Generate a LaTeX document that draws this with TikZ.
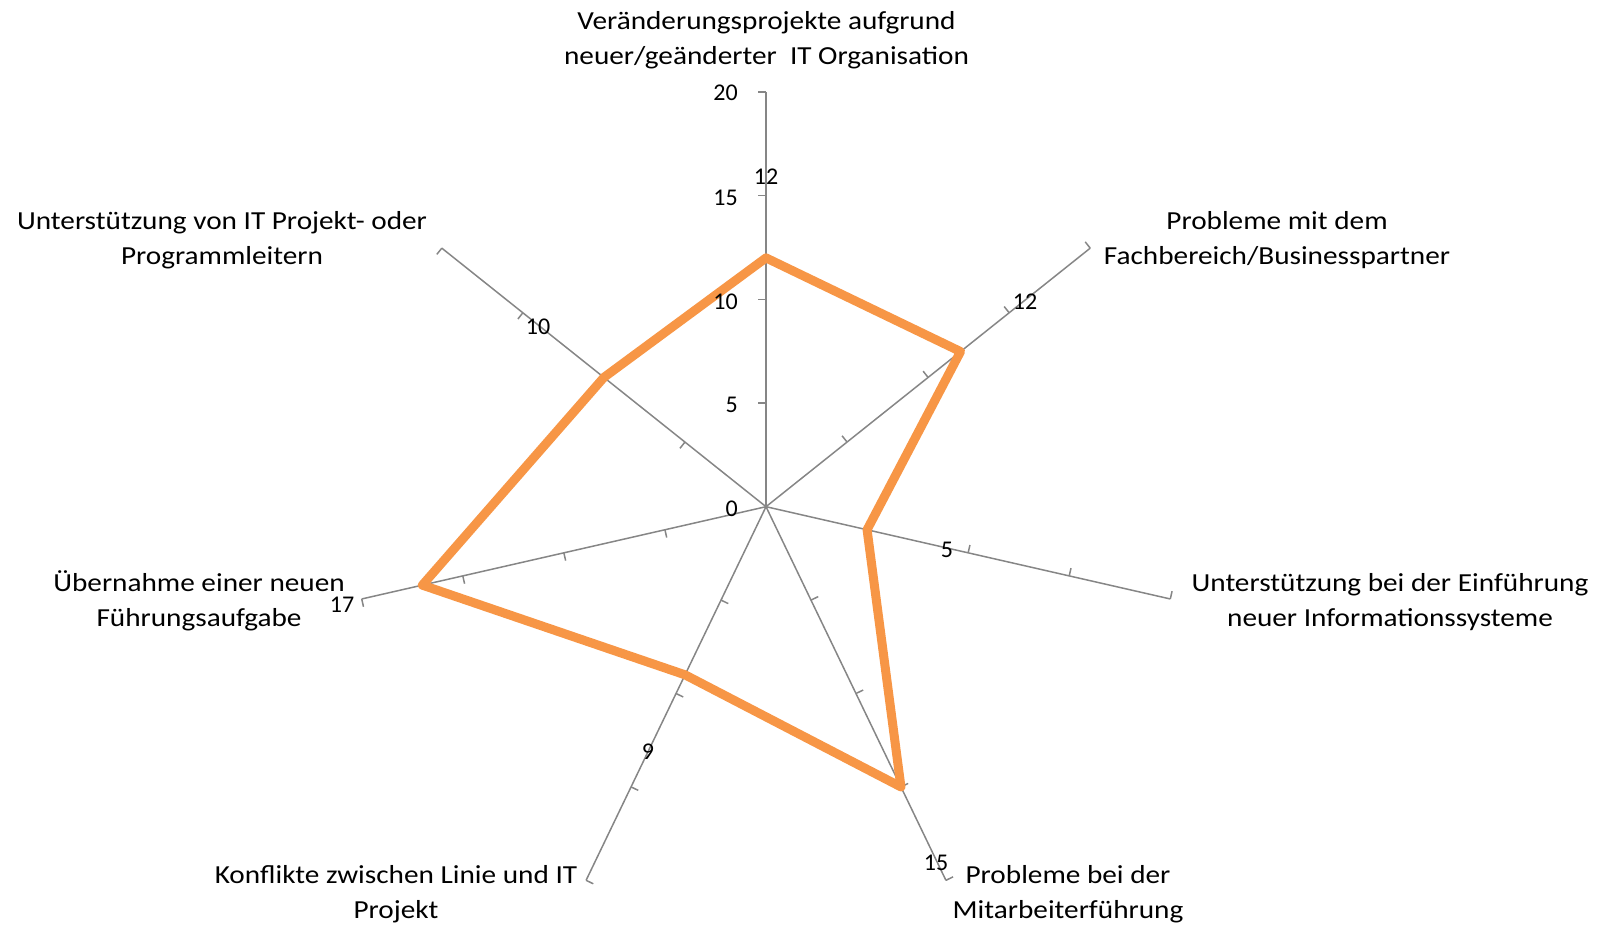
\documentclass[tikz,border=0pt]{standalone}
\usepackage{fontspec}
\setmainfont{Carlito}
\newfontfamily\catfont[FakeStretch=1.125]{Carlito}
\definecolor{axisgray}{HTML}{868686}
\definecolor{seriesorange}{HTML}{F79646}
\begin{document}
\begin{tikzpicture}[x=1pt,y=1pt,
  axisline/.style={axisgray, line width=1.5pt},
  series/.style={seriesorange, line width=9pt, line join=round},
  cat/.style={align=center, anchor=base, inner sep=0pt, font=\catfont\fontsize{26}{35}\selectfont},
  val/.style={inner sep=0pt, font=\fontsize{24}{29}\selectfont},
  ticklab/.style={inner sep=0pt, anchor=east, font=\fontsize{24}{29}\selectfont}]
\useasboundingbox (0,0) rectangle (1606,927);
\coordinate (C) at (766,420.3);
\begin{scope}[shift={(C)}]
  \foreach \k in {0,...,6} {
    \pgfmathsetmacro\ang{90-\k*360/7}
    \draw[axisline] (0,0) -- (\ang:414.7) coordinate (E\k);
    \foreach \t in {1,2,3,4} {
      \draw[axisline] (\ang:\t*103.675) -- ++(\ang+90:8);
    }
  }
  \foreach \k/\v in {0/12,1/12,2/5,3/15,4/9,5/17,6/10} {
    \coordinate (P\k) at ({90-\k*360/7}:{\v*20.735});
  }
\end{scope}
\draw[series] (P0) -- (P1) -- (P2) -- (P3) -- (P4) -- (P5) -- (P6) -- cycle;
% axis tick labels
\node[ticklab] (t20) at (738,834) {20};
\node[ticklab] (t15) at (738,729) {15};
\node[ticklab] (t10) at (738,625) {10};
\node[ticklab] (t5)  at (738,522) {5};
\node[ticklab] (t0)  at (738,418) {0};
% data labels
\node[val] (d0) at (766,750) {12};
\node[val] (d1) at (1025,625) {12};
\node[val] (d2) at (947,377) {5};
\node[val] (d3) at (936,64) {15};
\node[val] (d4) at (648,175) {9};
\node[val] (d5) at (342,322) {17};
\node[val] (d6) at (538,600) {10};
% category labels (anchored at the baseline of the last line)
\node[cat] (c0) at (766.5,862) {Veränderungsprojekte aufgrund\\neuer/geänderter\ \ IT Organisation};
\node[cat] (c1) at (1277,662) {Probleme mit dem\\Fachbereich/Businesspartner};
\node[cat] (c2) at (1390,300) {Unterstützung bei der Einführung\\neuer Informationssysteme};
\node[cat] (c3) at (1068,9) {Probleme bei der\\Mitarbeiterführung};
\node[cat] (c4) at (396,9) {Konflikte zwischen Linie und IT\\Projekt};
\node[cat] (c5) at (199,300) {Übernahme einer neuen\\Führungsaufgabe};
\node[cat] (c6) at (222,662) {Unterstützung von IT Projekt- oder\\Programmleitern};
\end{tikzpicture}
\end{document}
